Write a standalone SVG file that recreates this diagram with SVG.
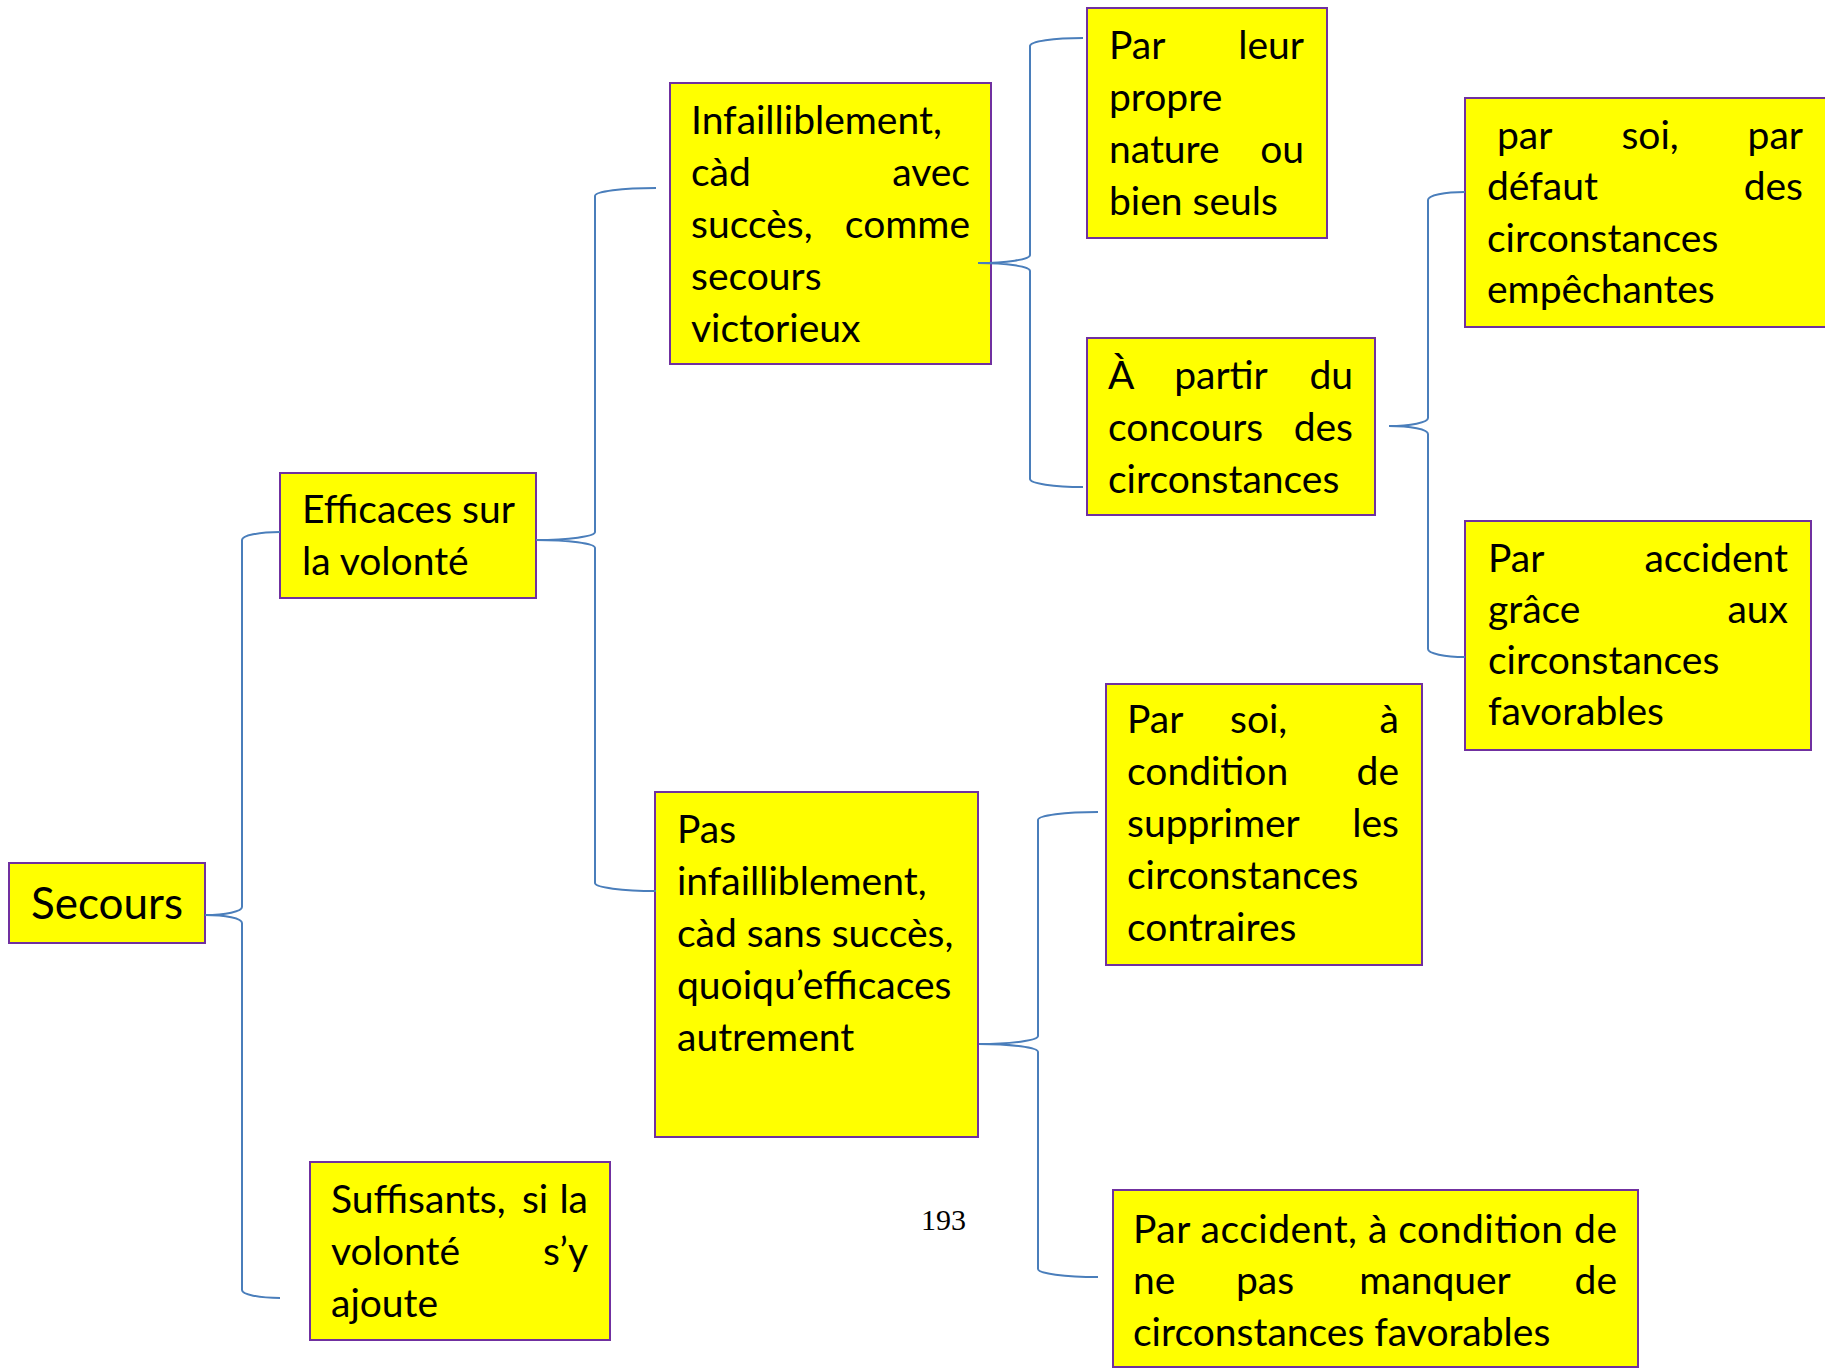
<svg xmlns="http://www.w3.org/2000/svg" width="1825" height="1369" viewBox="0 0 1825 1369">
<style>
.box{fill:#FFFF00;stroke:#7030A0;stroke-width:2}
.t{font-family:Lato,"Liberation Sans",sans-serif;font-size:39px;fill:#000}
.e{text-anchor:end}
.m{text-anchor:middle}
.br{fill:none;stroke:#4A7EBB;stroke-width:2}
.pg{font-family:"Liberation Serif",serif;font-size:30px;fill:#000}
</style>
<rect width="1825" height="1369" fill="#FFFFFF"/>
<g id="nodes">
<g id="secours">
<rect class="box" x="9" y="863" width="196" height="80"/>
<text class="t" x="31" y="919" style="font-size:44px">Secours</text>
</g>
<g id="efficaces">
<rect class="box" x="280" y="473" width="256" height="125"/>
<text class="t" x="302" y="523">Efficaces sur</text>
<text class="t" x="302" y="575">la volonté</text>
</g>
<g id="infailliblement">
<rect class="box" x="670" y="83" width="321" height="281"/>
<text class="t" x="691" y="134">Infailliblement,</text>
<text class="t" x="691" y="186">càd</text><text class="t e" x="970" y="186">avec</text>
<text class="t" x="691" y="238">succès,</text><text class="t e" x="970" y="238">comme</text>
<text class="t" x="691" y="290">secours</text>
<text class="t" x="691" y="342">victorieux</text>
</g>
<g id="par-leur">
<rect class="box" x="1087" y="8" width="240" height="230"/>
<text class="t" x="1109" y="59">Par</text><text class="t e" x="1304" y="59">leur</text>
<text class="t" x="1109" y="111">propre</text>
<text class="t" x="1109" y="163">nature</text><text class="t e" x="1304" y="163">ou</text>
<text class="t" x="1109" y="215">bien seuls</text>
</g>
<g id="a-partir">
<rect class="box" x="1087" y="338" width="288" height="177"/>
<text class="t" x="1108" y="389">À</text><text class="t m" x="1221" y="389">partir</text><text class="t e" x="1353" y="389">du</text>
<text class="t" x="1108" y="441">concours</text><text class="t e" x="1353" y="441">des</text>
<text class="t" x="1108" y="493">circonstances</text>
</g>
<g id="par-soi-defaut">
<rect class="box" x="1465" y="98" width="362" height="229"/>
<text class="t" x="1497" y="149">par</text><text class="t m" x="1650" y="149">soi,</text><text class="t e" x="1803" y="149">par</text>
<text class="t" x="1487" y="200">défaut</text><text class="t e" x="1803" y="200">des</text>
<text class="t" x="1487" y="252">circonstances</text>
<text class="t" x="1487" y="303">empêchantes</text>
</g>
<g id="par-accident-grace">
<rect class="box" x="1465" y="521" width="346" height="229"/>
<text class="t" x="1488" y="572">Par</text><text class="t e" x="1788" y="572">accident</text>
<text class="t" x="1488" y="623">grâce</text><text class="t e" x="1788" y="623">aux</text>
<text class="t" x="1488" y="674">circonstances</text>
<text class="t" x="1488" y="725">favorables</text>
</g>
<g id="pas-infailliblement">
<rect class="box" x="655" y="792" width="323" height="345"/>
<text class="t" x="677" y="843">Pas</text>
<text class="t" x="677" y="895">infailliblement,</text>
<text class="t" x="677" y="947">càd sans succès,</text>
<text class="t" x="677" y="999">quoiqu’efficaces</text>
<text class="t" x="677" y="1051">autrement</text>
</g>
<g id="par-soi-condition">
<rect class="box" x="1106" y="684" width="316" height="281"/>
<text class="t" x="1127" y="733">Par</text><text class="t" x="1230" y="733">soi,</text><text class="t e" x="1399" y="733">à</text>
<text class="t" x="1127" y="785">condition</text><text class="t e" x="1399" y="785">de</text>
<text class="t" x="1127" y="837">supprimer</text><text class="t e" x="1399" y="837">les</text>
<text class="t" x="1127" y="889">circonstances</text>
<text class="t" x="1127" y="941">contraires</text>
</g>
<g id="par-accident-condition">
<rect class="box" x="1113" y="1190" width="525" height="177"/>
<text class="t" x="1133" y="1243" textLength="484" lengthAdjust="spacing">Par accident, à condition de</text>
<text class="t" x="1133" y="1294">ne</text><text class="t m" x="1265" y="1294">pas</text><text class="t m" x="1435" y="1294">manquer</text><text class="t e" x="1617" y="1294">de</text>
<text class="t" x="1133" y="1346">circonstances favorables</text>
</g>
<g id="suffisants">
<rect class="box" x="310" y="1162" width="300" height="178"/>
<text class="t" x="331" y="1213">Suffisants,</text><text class="t m" x="535" y="1213">si</text><text class="t e" x="588" y="1213">la</text>
<text class="t" x="331" y="1265">volonté</text><text class="t e" x="588" y="1265">s’y</text>
<text class="t" x="331" y="1317">ajoute</text>
</g>
</g>
<g id="connectors">
<path class="br" d="M280,532 A38,8 0 0 0 242,540 L242,907 A37,8 0 0 1 205,915 A37,8 0 0 1 242,923 L242,1290 A38,8 0 0 0 280,1298"/>
<path class="br" d="M656,188 A61,8 0 0 0 595,196 L595,532 A59,8 0 0 1 536,540 A59,8 0 0 1 595,548 L595,883 A61,8 0 0 0 656,891"/>
<path class="br" d="M1083,38 A53,8 0 0 0 1030,46 L1030,255 A52,8 0 0 1 978,263 A52,8 0 0 1 1030,271 L1030,479 A53,8 0 0 0 1083,487"/>
<path class="br" d="M1465,192 A37,8 0 0 0 1428,200 L1428,418 A39,8 0 0 1 1389,426 A39,8 0 0 1 1428,434 L1428,649 A37,8 0 0 0 1465,657"/>
<path class="br" d="M1098,812 A60,8 0 0 0 1038,820 L1038,1036 A59,8 0 0 1 979,1044 A59,8 0 0 1 1038,1052 L1038,1269 A60,8 0 0 0 1098,1277"/>
</g>
<text class="pg" x="921" y="1230">193</text>
</svg>
